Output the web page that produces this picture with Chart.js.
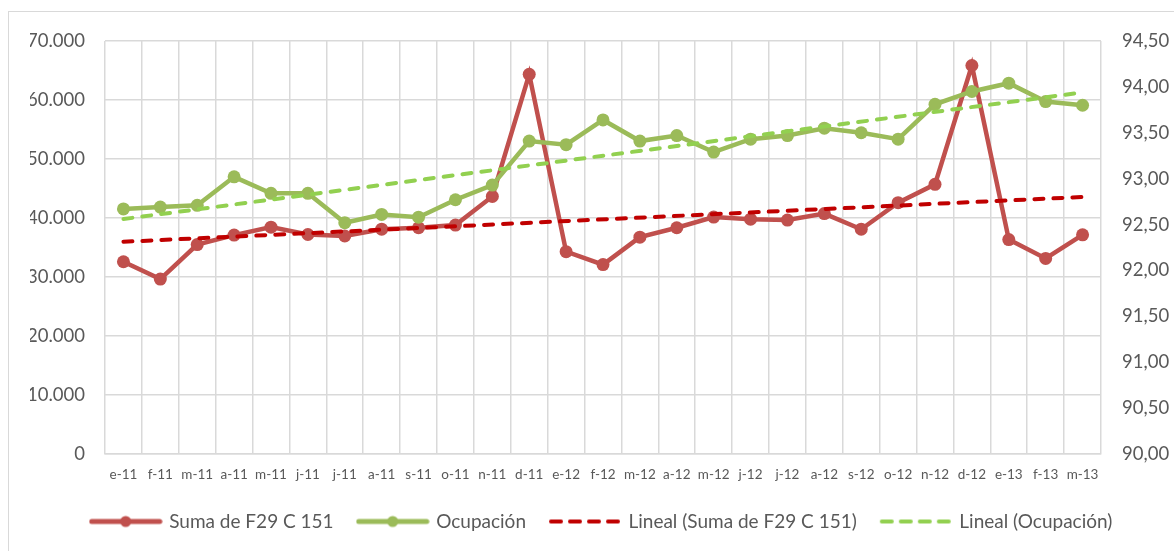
<!DOCTYPE html>
<html>
<head>
<meta charset="utf-8">
<script src="https://cdn.jsdelivr.net/npm/chart.js@4/dist/chart.umd.min.js"></script>
<style>
	html, body { margin: 0; padding: 0; background: #fff; }
	canvas { display: block; }
</style>
</head>
<body>
<canvas id="chart" width="1174" height="551"></canvas>
<script>
const canvas = document.getElementById('chart');
const ctx = canvas.getContext('2d');

// Data
const labels = ['e-11', 'f-11', 'm-11', 'a-11', 'm-11', 'j-11', 'j-11', 'a-11', 's-11', 'o-11', 'n-11', 'd-11',
	'e-12', 'f-12', 'm-12', 'a-12', 'm-12', 'j-12', 'j-12', 'a-12', 's-12', 'o-12', 'n-12', 'd-12',
	'e-13', 'f-13', 'm-13'];
const suma = [32580, 29650, 35500, 37100, 38450, 37200, 36950, 38100, 38350, 38800, 43650, 64350,
	34300, 32100, 36750, 38350, 40150, 39800, 39650, 40750, 38100, 42600, 45700, 65850,
	36350, 33150, 37150];
const ocupacion = [92.67, 92.69, 92.71, 93.02, 92.84, 92.84, 92.52, 92.61, 92.58, 92.77, 92.93, 93.41,
	93.37, 93.64, 93.41, 93.47, 93.29, 93.43, 93.47, 93.55, 93.50, 93.43, 93.81, 93.95,
	94.04, 93.84, 93.80];
// trendline ends (first and last month)
const trendSuma = [35970, 43570];
const trendOcupacion = [92.56, 93.94];
const seriesNames = ['Suma de F29 C 151', 'Ocupación', 'Lineal (Suma de F29 C 151)', 'Lineal (Ocupación)'];
const leftTicks = [0, 70000, 10000];
const rightTicks = [90, 94.5, 0.5];

// Config
const RED = '#C0504D';
const GREEN = '#9BBB59';
const RED_TREND = '#C00000';
const GREEN_TREND = '#92D050';
const GRID = '#d9d9d9';
const TEXT = '#595959';
const FONT = 'Lato';

const firstLabel = labels[0];
const lastLabel = labels[labels.length - 1];

function legendIcon(color, dashed) {
	const c = document.createElement('canvas');
	c.width = 74;
	c.height = 14;
	const g = c.getContext('2d');
	g.strokeStyle = color;
	g.fillStyle = color;
	g.lineCap = 'round';
	if (dashed) {
		g.lineWidth = 4;
		g.setLineDash([10, 9]);
		g.beginPath();
		g.moveTo(3, 7);
		g.lineTo(71, 7);
		g.stroke();
	} else {
		g.lineWidth = 5;
		g.beginPath();
		g.moveTo(3, 7);
		g.lineTo(71, 7);
		g.stroke();
		g.beginPath();
		g.arc(37, 7, 5.5, 0, Math.PI * 2);
		g.fill();
	}
	return c;
}

const icons = [legendIcon(RED, false), legendIcon(GREEN, false), legendIcon(RED_TREND, true), legendIcon(GREEN_TREND, true)];

const outerBorder = {
	id: 'outerBorder',
	beforeDraw(chart) {
		const c = chart.ctx;
		c.save();
		c.fillStyle = '#fff';
		c.fillRect(0, 0, chart.width, chart.height);
		c.strokeStyle = GRID;
		c.lineWidth = 1;
		c.strokeRect(8.5, 11.5, 1300, 700);
		c.restore();
	}
};

const data = {
	labels,
	datasets: [
		{
			label: seriesNames[0],
			data: suma,
			yAxisID: 'y',
			borderColor: RED,
			backgroundColor: RED,
			borderWidth: 4.5,
			pointRadius: 6.5,
			pointBorderWidth: 0,
			order: 3
		},
		{
			label: seriesNames[1],
			data: ocupacion,
			yAxisID: 'y1',
			borderColor: GREEN,
			backgroundColor: GREEN,
			borderWidth: 4.5,
			pointRadius: 6.5,
			pointBorderWidth: 0,
			order: 2
		},
		{
			label: seriesNames[2],
			data: [{ x: firstLabel, y: trendSuma[0] }, { x: lastLabel, y: trendSuma[1] }],
			yAxisID: 'y',
			borderColor: RED_TREND,
			borderWidth: 4,
			borderDash: [9, 10],
			borderCapStyle: 'round',
			pointRadius: 0,
			order: 1
		},
		{
			label: seriesNames[3],
			data: [{ x: firstLabel, y: trendOcupacion[0] }, { x: lastLabel, y: trendOcupacion[1] }],
			yAxisID: 'y1',
			borderColor: GREEN_TREND,
			borderWidth: 4,
			borderDash: [9, 10],
			borderCapStyle: 'round',
			pointRadius: 0,
			order: 0
		}
	]
};

const options = {
	responsive: false,
	animation: false,
	layout: {
		padding: { top: 41, left: 30, right: 0, bottom: 10 }
	},
	plugins: {
		tooltip: { enabled: false },
		legend: {
			position: 'bottom',
			labels: {
				usePointStyle: true,
				pointStyleWidth: 68,
				padding: 25,
				color: TEXT,
				font: { family: FONT, size: 19 },
				sort: (a, b) => a.datasetIndex - b.datasetIndex,
				generateLabels(chart) {
					const items = Chart.defaults.plugins.legend.labels.generateLabels(chart);
					items.forEach((item) => {
						item.pointStyle = icons[item.datasetIndex];
					});
					return items;
				}
			}
		}
	},
	scales: {
		x: {
			offset: true,
			grid: { offset: true, color: GRID, lineWidth: 1.5, drawTicks: false },
			border: { display: true, color: GRID, width: 1.5 },
			ticks: {
				color: TEXT,
				font: { family: FONT, size: 13.5 },
				padding: 13,
				autoSkip: false,
				maxRotation: 0
			},
			afterFit: (scale) => { scale.height = 33; }
		},
		y: {
			position: 'left',
			min: leftTicks[0],
			max: leftTicks[1],
			grid: { color: GRID, lineWidth: 1.5, drawTicks: false },
			border: { display: false },
			ticks: {
				stepSize: leftTicks[2],
				color: TEXT,
				font: { family: FONT, size: 18.5 },
				padding: 20,
				callback: (v) => v.toLocaleString('de-DE')
			},
			afterFit: (scale) => { scale.width = 75; }
		},
		y1: {
			position: 'right',
			min: rightTicks[0],
			max: rightTicks[1],
			grid: { display: false, drawTicks: false },
			border: { display: false },
			ticks: {
				stepSize: rightTicks[2],
				color: TEXT,
				font: { family: FONT, size: 18.5 },
				padding: 21,
				callback: (v) => v.toFixed(2).replace('.', ',')
			},
			afterFit: (scale) => { scale.width = 73; }
		}
	}
};

// Init
new Chart(ctx, {
	type: 'line',
	data,
	options,
	plugins: [outerBorder]
});
</script>
</body>
</html>
